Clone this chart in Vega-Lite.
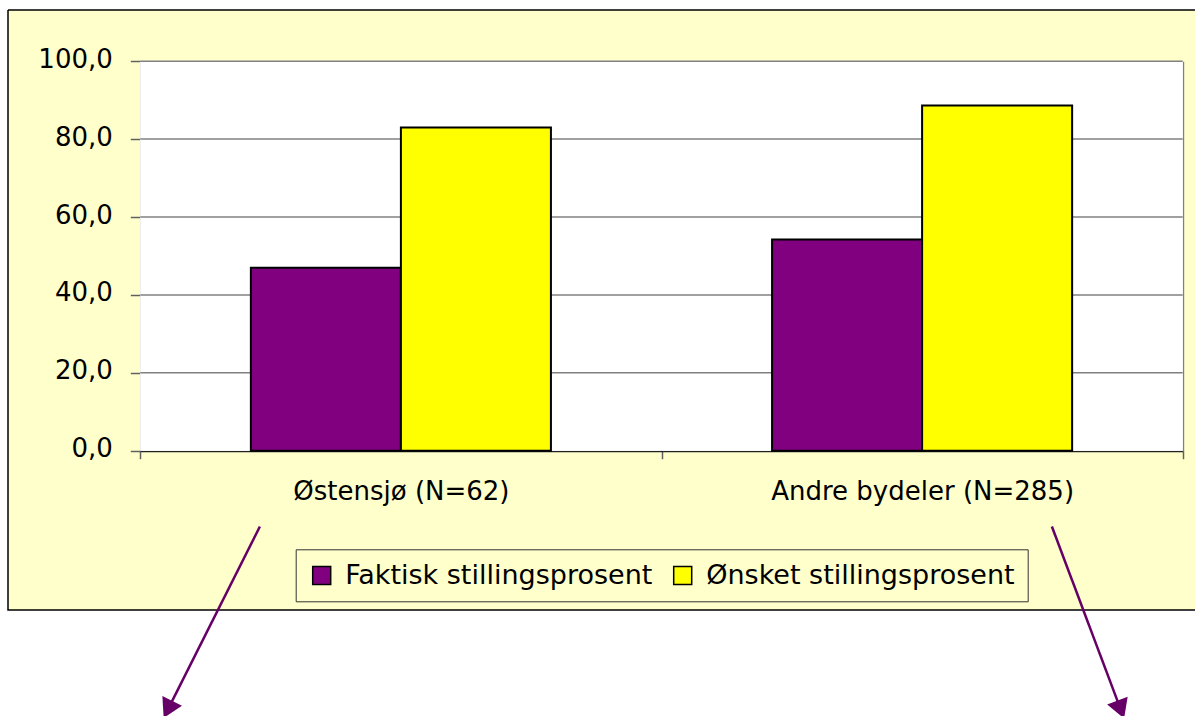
{
  "$schema": "https://vega.github.io/schema/vega-lite/v6.json",
  "width": 1187,
  "height": 600,
  "autosize": {"type": "none"},
  "padding": {"left": 8, "top": 10, "right": 0, "bottom": 106},
  "background": "white",
  "config": {
    "font": "DejaVu Sans",
    "view": {"fill": "#FFFFCC", "stroke": "#000000", "strokeWidth": 1.5, "strokeDash": [1187, 600, 1787, 0]}
  },
  "layer": [
    {
      "data": {
        "values": [
          {"bydel": "Østensjø (N=62)", "serie": "Faktisk stillingsprosent", "prosent": 47.0},
          {"bydel": "Østensjø (N=62)", "serie": "Ønsket stillingsprosent", "prosent": 83.0},
          {"bydel": "Andre bydeler (N=285)", "serie": "Faktisk stillingsprosent", "prosent": 54.2},
          {"bydel": "Andre bydeler (N=285)", "serie": "Ønsket stillingsprosent", "prosent": 88.6}
        ]
      },
      "encoding": {
        "x": {
          "field": "bydel",
          "type": "nominal",
          "sort": null,
          "scale": {
            "domain": ["Østensjø (N=62)", "Andre bydeler (N=285)"],
            "range": [132.3, 1174.7],
            "paddingInner": 0,
            "paddingOuter": 0
          },
          "axis": {
            "title": null,
            "orient": "bottom",
            "offset": -159.3,
            "labelAngle": 0,
            "labelFontSize": 26,
            "labelColor": "#000000",
            "labelPadding": 20,
            "labelLimit": 600,
            "tickBand": "extent",
            "tickSize": 8,
            "tickColor": "#606060",
            "tickWidth": 1.5,
            "domainColor": "#222222",
            "domainWidth": 2,
            "grid": false
          }
        }
      },
      "layer": [
        {
          "mark": {"type": "bar", "fill": "#FFFFFF", "stroke": null},
          "encoding": {
            "y": {"datum": 100, "type": "quantitative", "title": null},
            "y2": {"datum": 0}
          }
        },
        {
          "data": {"values": [{"linje": 20}, {"linje": 40}, {"linje": 60}, {"linje": 80}, {"linje": 100}]},
          "mark": {"type": "rule", "color": "#808080", "strokeWidth": 1.5},
          "encoding": {
            "x": {"datum": "Østensjø (N=62)", "bandPosition": 0},
            "x2": {"datum": "Andre bydeler (N=285)", "bandPosition": 1},
            "y": {"field": "linje", "type": "quantitative", "title": null}
          }
        },
        {
          "mark": {"type": "bar", "stroke": "#000000", "strokeWidth": 2},
          "encoding": {
            "xOffset": {
              "field": "serie",
              "type": "nominal",
              "scale": {"paddingInner": 0, "paddingOuter": 0.737}
            },
            "y": {
              "field": "prosent",
              "type": "quantitative",
              "scale": {"domain": [0, 100], "range": [440.7, 51.2], "nice": false, "zero": true},
              "axis": {
                "title": null,
                "orient": "left",
                "offset": -132.3,
                "values": [0, 20, 40, 60, 80, 100],
                "labelExpr": "replace(format(datum.value, '.1f'), '.', ',')",
                "labelFontSize": 26,
                "labelColor": "#000000",
                "labelPadding": 18,
                "labelOffset": -2,
                "tickSize": 10,
                "tickColor": "#606060",
                "tickWidth": 1.5,
                "domainColor": "#303030",
                "domainWidth": 1.5,
                "grid": false
              }
            },
            "color": {
              "field": "serie",
              "type": "nominal",
              "scale": {
                "domain": ["Faktisk stillingsprosent", "Ønsket stillingsprosent"],
                "range": ["#800080", "#FFFF00"]
              },
              "legend": {
                "title": null,
                "orient": "none",
                "legendX": 287.7,
                "legendY": 539.3,
                "direction": "horizontal",
                "fillColor": "#FFFFCC",
                "strokeColor": "#333333",
                "padding": 12.5,
                "labelFontSize": 27,
                "labelColor": "#000000",
                "labelLimit": 600,
                "labelOffset": 10,
                "columnPadding": 16,
                "symbolType": "square",
                "symbolSize": 324,
                "symbolOpacity": 1,
                "symbolStrokeColor": "#000000",
                "symbolStrokeWidth": 1.5
              }
            }
          }
        }
      ]
    },
    {
      "data": {
        "values": [
          {"pil": "venstre", "fra_x": 0.2294, "fra_y": -19.46, "til_x": 0.0557, "til_y": -65.7, "retning": 206.6},
          {"pil": "høyre", "fra_x": 1.749, "fra_y": -19.46, "til_x": 1.879, "til_y": -65.7, "retning": 159.4}
        ]
      },
      "encoding": {
        "x": {
          "field": "fra_x",
          "type": "quantitative",
          "scale": {"domain": [0, 2], "range": [132.3, 1174.7], "nice": false, "zero": false},
          "axis": null
        },
        "y": {
          "field": "fra_y",
          "type": "quantitative",
          "scale": {"domain": [0, 100], "range": [440.7, 51.2], "nice": false, "zero": false},
          "axis": {
            "title": null,
            "orient": "right",
            "offset": -12.3,
            "labels": false,
            "ticks": false,
            "grid": false,
            "domainColor": "#808080",
            "domainWidth": 2
          }
        }
      },
      "layer": [
        {
          "mark": {"type": "rule", "color": "#660066", "strokeWidth": 2.5},
          "encoding": {
            "x2": {"field": "til_x"},
            "y2": {"field": "til_y"}
          }
        },
        {
          "mark": {"type": "point", "shape": "triangle", "filled": true, "color": "#660066", "opacity": 1, "size": 480},
          "encoding": {
            "x": {"field": "til_x", "type": "quantitative"},
            "y": {"field": "til_y", "type": "quantitative"},
            "angle": {"field": "retning", "type": "quantitative", "scale": null}
          }
        }
      ]
    }
  ],
  "resolve": {
    "scale": {"x": "independent", "y": "independent", "color": "independent"},
    "axis": {"x": "independent", "y": "independent"}
  }
}
